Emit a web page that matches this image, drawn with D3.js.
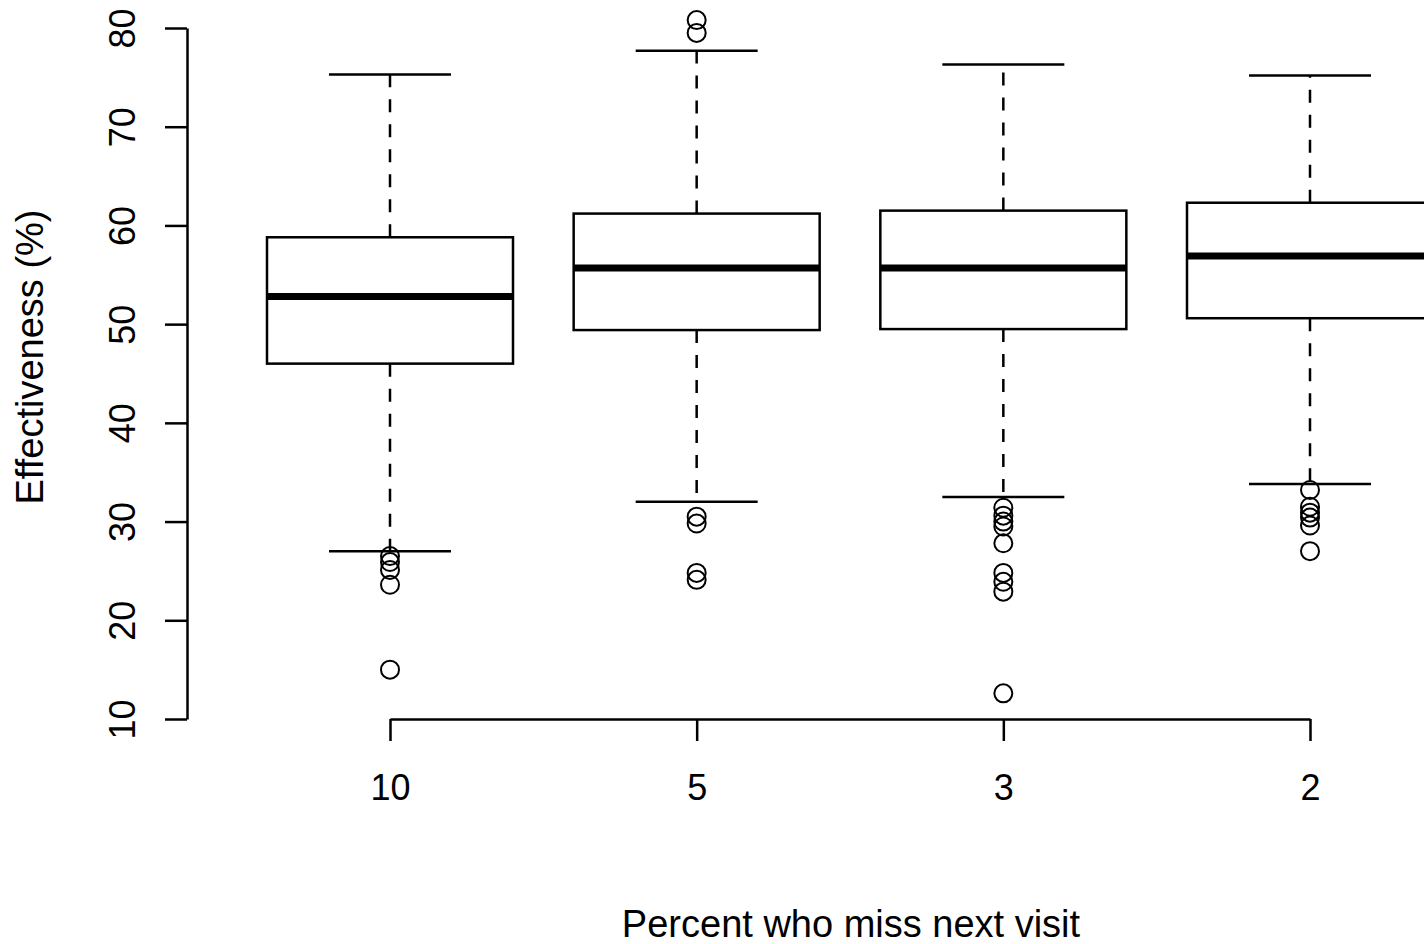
<!DOCTYPE html>
<html>
<head>
<meta charset="utf-8">
<script src="https://cdn.jsdelivr.net/npm/d3@7"></script>
<style>
  body { margin: 0; background: #fff; }
  svg { display: block; }
</style>
</head>
<body>
<div id="chart"></div>
<script>
const width = 1424;
const height = 944;

// data
const categories = ["10", "5", "3", "2"];
const lowerWhisker = [27.0, 32.0, 32.5, 33.8];
const q1 = [46.0, 49.4, 49.5, 50.6];
const medians = [52.8, 55.7, 55.7, 56.9];
const q3 = [58.8, 61.2, 61.5, 62.3];
const upperWhisker = [75.3, 77.7, 76.3, 75.2];
const outliers = [
  [26.5, 25.9, 25.1, 23.6, 15.0],
  [80.8, 79.5, 30.5, 29.8, 24.8, 24.1],
  [31.4, 30.6, 30.0, 29.5, 27.8, 24.8, 23.9, 22.9, 12.6],
  [33.2, 31.5, 30.9, 30.4, 29.6, 27.0],
];
const yTicks = [10, 20, 30, 40, 50, 60, 70, 80];

const font = "'Liberation Sans', Arial, Helvetica, sans-serif";

const svg = d3
  .select("#chart")
  .append("svg")
  .attr("width", width)
  .attr("height", height);

const x = d3.scalePoint().domain(categories).range([390, 1310]);
const y = d3.scaleLinear().domain([10, 80]).range([719, 28]);

const boxHalf = 123;
const capHalf = 61;

const boxes = categories.map((c, i) => ({
  cat: c,
  lo: lowerWhisker[i],
  q1: q1[i],
  med: medians[i],
  q3: q3[i],
  hi: upperWhisker[i],
  out: outliers[i],
}));

const g = svg.selectAll(".box").data(boxes).join("g").classed("box", true);

// whiskers
g.append("line")
  .attr("x1", (d) => x(d.cat))
  .attr("x2", (d) => x(d.cat))
  .attr("y1", (d) => y(d.q3))
  .attr("y2", (d) => y(d.hi))
  .attr("stroke", "#000")
  .attr("stroke-width", 2.5)
  .attr("stroke-dasharray", "13,12");

g.append("line")
  .attr("x1", (d) => x(d.cat))
  .attr("x2", (d) => x(d.cat))
  .attr("y1", (d) => y(d.q1))
  .attr("y2", (d) => y(d.lo))
  .attr("stroke", "#000")
  .attr("stroke-width", 2.5)
  .attr("stroke-dasharray", "13,12");

// staples
g.selectAll(".cap")
  .data((d) => [d, d].map((e, k) => ({ cat: e.cat, v: k ? e.lo : e.hi })))
  .join("line")
  .classed("cap", true)
  .attr("x1", (d) => x(d.cat) - capHalf)
  .attr("x2", (d) => x(d.cat) + capHalf)
  .attr("y1", (d) => y(d.v))
  .attr("y2", (d) => y(d.v))
  .attr("stroke", "#000")
  .attr("stroke-width", 2.5);

// box
g.append("rect")
  .attr("x", (d) => x(d.cat) - boxHalf)
  .attr("width", boxHalf * 2)
  .attr("y", (d) => y(d.q3))
  .attr("height", (d) => y(d.q1) - y(d.q3))
  .attr("fill", "#fff")
  .attr("stroke", "#000")
  .attr("stroke-width", 2.5);

// median
g.append("line")
  .attr("x1", (d) => x(d.cat) - boxHalf)
  .attr("x2", (d) => x(d.cat) + boxHalf)
  .attr("y1", (d) => y(d.med))
  .attr("y2", (d) => y(d.med))
  .attr("stroke", "#000")
  .attr("stroke-width", 7);

// outliers
g.selectAll("circle")
  .data((d) => d.out.map((v) => ({ cat: d.cat, v })))
  .join("circle")
  .attr("cx", (d) => x(d.cat))
  .attr("cy", (d) => y(d.v))
  .attr("r", 9)
  .attr("fill", "none")
  .attr("stroke", "#000")
  .attr("stroke-width", 2);

// y axis
const yAxis = svg
  .append("g")
  .attr("transform", "translate(187,0)")
  .call(d3.axisLeft(y).tickValues(yTicks).tickSize(22).tickSizeOuter(0).tickPadding(0));
yAxis.selectAll("path, line").attr("stroke", "#000").attr("stroke-width", 2.5);
yAxis
  .selectAll("text")
  .attr("transform", "translate(-52,0) rotate(-90)")
  .attr("x", 0)
  .attr("dy", 0)
  .attr("text-anchor", "middle")
  .style("font-family", font)
  .style("font-size", "36px")
  .attr("fill", "#000");

// x axis
const xAxis = svg
  .append("g")
  .attr("transform", "translate(0,719)")
  .call(d3.axisBottom(x).tickSize(22).tickSizeOuter(0).tickPadding(0));
xAxis.selectAll("path, line").attr("stroke", "#000").attr("stroke-width", 2.5);
xAxis
  .selectAll("text")
  .attr("y", 81)
  .attr("dy", 0)
  .style("font-family", font)
  .style("font-size", "36px")
  .attr("fill", "#000");

// axis titles
svg
  .append("text")
  .attr("transform", "translate(43,357) rotate(-90)")
  .attr("text-anchor", "middle")
  .style("font-family", font)
  .style("font-size", "38px")
  .text("Effectiveness (%)");

svg
  .append("text")
  .attr("x", 851)
  .attr("y", 937)
  .attr("text-anchor", "middle")
  .style("font-family", font)
  .style("font-size", "38px")
  .text("Percent who miss next visit");
</script>
</body>
</html>
